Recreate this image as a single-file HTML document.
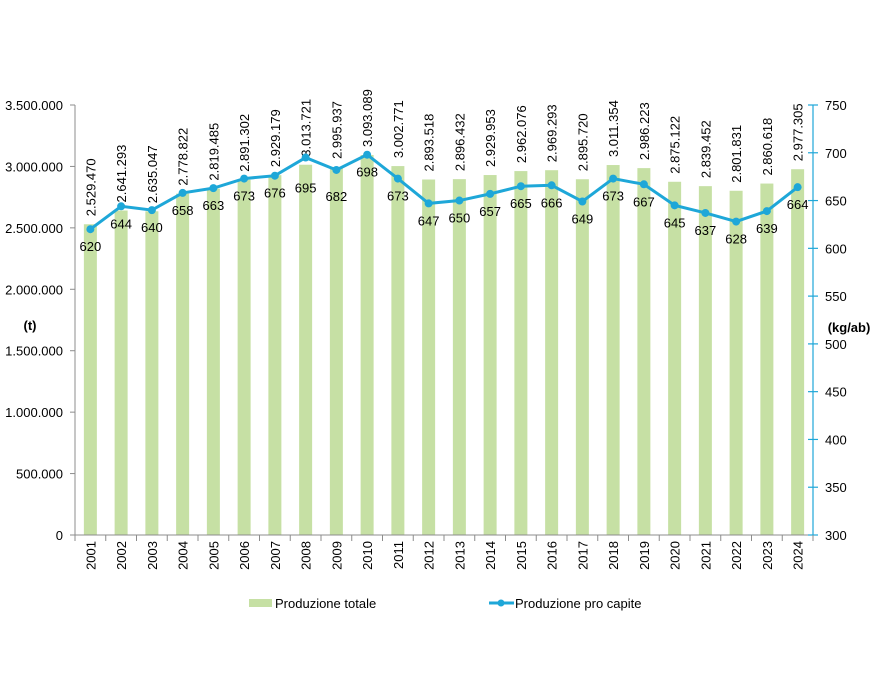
<!DOCTYPE html>
<html><head><meta charset="utf-8"><style>
html,body{margin:0;padding:0;background:#fff;}
svg{display:block;font-family:"Liberation Sans","DejaVu Sans",sans-serif;}
</style></head><body>
<svg id="c" width="882" height="682" viewBox="0 0 882 682" xmlns="http://www.w3.org/2000/svg">
<g id="g"></g>
</svg>
<script>
const tot=[2529470,2641293,2635047,2778822,2819485,2891302,2929179,3013721,2995937,3093089,3002771,2893518,2896432,2929953,2962076,2969293,2895720,3011354,2986223,2875122,2839452,2801831,2860618,2977305];
const pc=[620,644,640,658,663,673,676,695,682,698,673,647,650,657,665,666,649,673,667,645,637,628,639,664];
const fmt=v=>v.toString().replace(/\B(?=(\d{3})+(?!\d))/g,".");
let s="";
const L=75,R=813,B=535,T=105;
const yl=v=>B-v*430/3500000, yr=p=>B-(p-300)*430/450;
const cx=i=>L+30.75*(i+0.5);
// bars
tot.forEach((v,i)=>{s+=`<rect x="${cx(i)-6.5}" y="${yl(v)}" width="13" height="${B-yl(v)}" fill="#c6e0a4"/>`;});
// axes
s+=`<line x1="${L}" y1="${T}" x2="${L}" y2="${B}" stroke="#8c8c8c" stroke-width="1"/>`;
s+=`<line x1="${L}" y1="${B}" x2="${R}" y2="${B}" stroke="#8c8c8c" stroke-width="1"/>`;
s+=`<line x1="${R}" y1="${T}" x2="${R}" y2="${B}" stroke="#1ea7d8" stroke-width="1.2"/>`;
for(let k=0;k<=7;k++){const y=B-k*430/7;
 s+=`<line x1="${L-5}" y1="${y}" x2="${L}" y2="${y}" stroke="#8c8c8c"/>`;
 s+=`<text x="${L-12}" y="${y+5}" font-size="13" text-anchor="end" fill="#000">${k==0?"0":fmt(k*500000)}</text>`;
 const yy=B-k*430/9;}
for(let k=0;k<=9;k++){const y=B-k*430/9;
 s+=`<line x1="${R-5}" y1="${y}" x2="${R+5}" y2="${y}" stroke="#1ea7d8" stroke-width="1.2"/>`;
 s+=`<text x="${R+12}" y="${y+5}" font-size="13" fill="#000">${300+k*50}</text>`;}
for(let i=0;i<=24;i++){const x=L+30.75*i;s+=`<line x1="${x}" y1="${B}" x2="${x}" y2="${B+6}" stroke="#8c8c8c"/>`;}
// year labels
tot.forEach((v,i)=>{const x=cx(i)+5,y=B+6;s+=`<text transform="translate(${x},${y}) rotate(-90)" font-size="13" text-anchor="end">${2001+i}</text>`;});
// total labels
tot.forEach((v,i)=>{const x=cx(i)+5,y=yl(v)-8;s+=`<text transform="translate(${x},${y}) rotate(-90)" font-size="13">${fmt(v)}</text>`;});
// line
s+=`<polyline fill="none" stroke="#1ea7d8" stroke-width="3" points="${pc.map((p,i)=>cx(i)+","+yr(p)).join(" ")}"/>`;
pc.forEach((p,i)=>{s+=`<circle cx="${cx(i)}" cy="${yr(p)}" r="4" fill="#1ea7d8"/>`;
 const off=i==7?30:(i==8?26:17);
 s+=`<text x="${cx(i)}" y="${yr(p)+off+5}" font-size="13" text-anchor="middle">${p}</text>`;});
// axis titles
s+=`<text x="30" y="330" font-size="13" font-weight="bold" text-anchor="middle">(t)</text>`;
s+=`<text x="849" y="332" font-size="13" font-weight="bold" text-anchor="middle">(kg/ab)</text>`;
// legend
s+=`<rect x="249" y="599" width="23" height="8" fill="#c6e0a4"/>`;
s+=`<text x="275" y="608" font-size="13">Produzione totale</text>`;
s+=`<line x1="489" y1="603" x2="514" y2="603" stroke="#1ea7d8" stroke-width="3"/><circle cx="501" cy="603" r="3.5" fill="#1ea7d8"/>`;
s+=`<text x="515" y="608" font-size="13">Produzione pro capite</text>`;
document.getElementById("g").innerHTML=s;
</script>
</body></html>
